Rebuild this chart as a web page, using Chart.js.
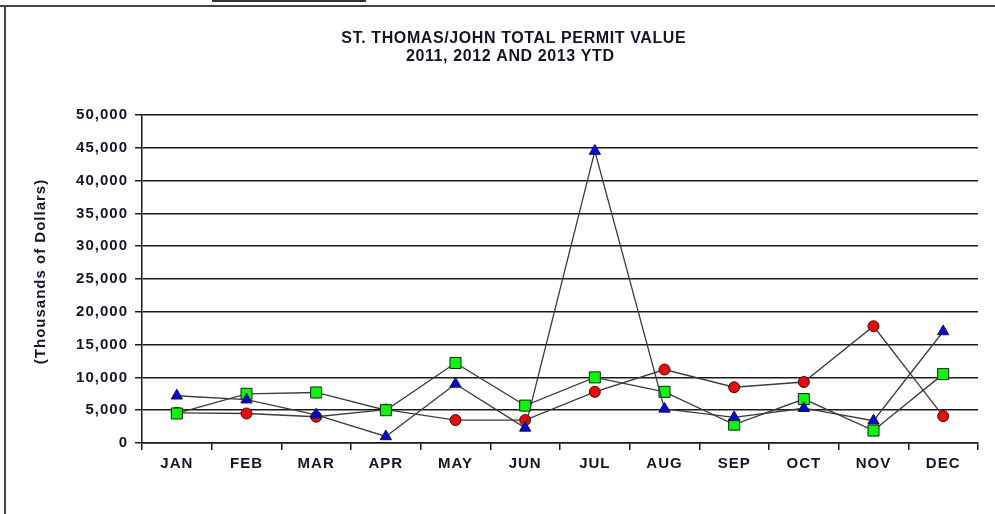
<!DOCTYPE html>
<html>
<head>
<meta charset="utf-8">
<script src="https://cdn.jsdelivr.net/npm/chart.js@4/dist/chart.umd.min.js"></script>
<style>
  html, body { margin: 0; padding: 0; background: #fff; }
  #wrap { position: relative; width: 995px; height: 514px; overflow: hidden; }
  canvas { position: absolute; left: 0; top: 0; }
  .frameTop { position: absolute; left: 0; top: 5px; width: 995px; height: 2px; background: #444; }
  .frameLeft { position: absolute; left: 4px; top: 5px; width: 2px; height: 509px; background: #444; }
  .topBox { position: absolute; left: 212px; top: -3px; width: 150px; height: 3px; border: 2px solid #333; border-top: none; }
</style>
</head>
<body>
<div id="wrap">
  <canvas id="c" width="995" height="514"></canvas>
  <div class="frameTop"></div>
  <div class="frameLeft"></div>
  <div class="topBox"></div>
</div>
<script>
const months = ['JAN','FEB','MAR','APR','MAY','JUN','JUL','AUG','SEP','OCT','NOV','DEC'];
const values2011 = [4600, 4500, 4000, 5100, 3500, 3500, 7800, 11200, 8500, 9300, 17800, 4100];
const values2012 = [4500, 7500, 7700, 5000, 12200, 5700, 10000, 7800, 2800, 6700, 1900, 10500];
const values2013 = [7200, 6600, 4300, 1000, 9000, 2300, 44500, 5200, 3900, 5300, 3400, 17000];
const titleLines = ['ST. THOMAS/JOHN TOTAL PERMIT VALUE', '2011, 2012 AND 2013 YTD'];
const yAxisTitle = '(Thousands of Dollars)';

const TEXT = '#14142a';
const FONT = '"Liberation Sans", Arial, sans-serif';

const textPlugin = {
  id: 'textPlugin',
  beforeDraw(chart) {
    chart.ctx.letterSpacing = '1px';
  },
  afterDraw(chart) {
    const ctx = chart.ctx;
    ctx.save();
    ctx.fillStyle = TEXT;
    ctx.textBaseline = 'middle';
    ctx.textAlign = 'center';
    ctx.font = 'bold 16px ' + FONT;
    ctx.letterSpacing = '0.6px';
    ctx.fillText(titleLines[0], 513.5 + 0.3, 38.5);
    ctx.fillText(titleLines[1], 510 + 0.3, 57);
    ctx.translate(41, 272);
    ctx.rotate(-Math.PI / 2);
    ctx.font = 'bold 15px ' + FONT;
    ctx.letterSpacing = '1px';
    ctx.fillText(yAxisTitle, 0.5, 0);
    ctx.restore();
    ctx.letterSpacing = '0px';
  }
};

const ds = (label, data, bg, style, radius) => ({
  label, data,
  borderColor: '#3c3c3c',
  borderWidth: 1.3,
  pointStyle: style,
  pointRadius: radius,
  pointHoverRadius: radius,
  pointBackgroundColor: bg,
  pointBorderColor: '#1a1a1a',
  pointBorderWidth: 1,
  tension: 0,
  fill: false
});

new Chart(document.getElementById('c'), {
  type: 'line',
  data: {
    labels: months,
    datasets: [
      ds('2013', values2013, '#0000ff', 'triangle', 6.5),
      ds('2012', values2012, '#00ff00', 'rect', 7.8),
      ds('2011', values2011, '#ff0000', 'circle', 5.5)
    ]
  },
  options: {
    responsive: false,
    animation: false,
    events: [],
    layout: { padding: { top: 115, left: 0, right: 17, bottom: 0 } },
    plugins: { legend: { display: false }, title: { display: false }, tooltip: { enabled: false } },
    scales: {
      x: {
        offset: true,
        afterFit(s) { s.height = 71; },
        grid: { offset: true, drawOnChartArea: false, drawTicks: true, tickLength: 7, color: '#1a1a1a', lineWidth: 1.5 },
        border: { display: true, color: '#1a1a1a', width: 1.5 },
        ticks: { color: TEXT, font: { family: FONT, size: 15, weight: 'bold' }, padding: 5, maxRotation: 0, autoSkip: false }
      },
      y: {
        min: 0, max: 50000,
        afterFit(s) { s.width = 142; },
        grid: { drawOnChartArea: true, drawTicks: true, tickLength: 7, color: '#1a1a1a', lineWidth: 1.5 },
        border: { display: true, color: '#1a1a1a', width: 1.5 },
        ticks: {
          stepSize: 5000,
          color: TEXT,
          padding: 7,
          font: { family: FONT, size: 15, weight: 'bold' },
          callback: (v) => v.toLocaleString('en-US')
        }
      }
    }
  },
  plugins: [textPlugin]
});
</script>
</body>
</html>
